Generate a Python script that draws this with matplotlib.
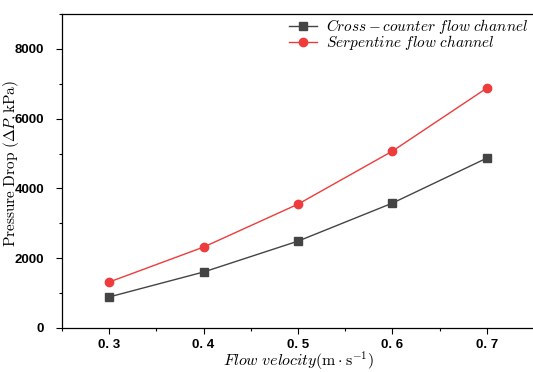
import matplotlib
matplotlib.use("Agg")
import matplotlib.pyplot as plt
from matplotlib import font_manager
from matplotlib.ticker import MultipleLocator

plt.rcParams['mathtext.fontset'] = 'cm'

# data
velocity = [0.3, 0.4, 0.5, 0.6, 0.7]
cross_counter = [890, 1605, 2490, 3580, 4870]
serpentine = [1318, 2320, 3550, 5070, 6877]

black_color = '#444444'
red_color = '#EE3B3B'

names = {f.name for f in font_manager.fontManager.ttflist}
tick_family = 'Liberation Sans Narrow' if 'Liberation Sans Narrow' in names else 'Liberation Sans'

fig = plt.figure(figsize=(5.33, 3.72), dpi=100)
ax = fig.add_axes([62 / 533, 1 - 328 / 372, 1 - 62 / 533 + 0.002, (328 - 14) / 372])

ax.plot(velocity, cross_counter, color=black_color, lw=1.0, marker='s', markersize=6,
        label=r'$Cross-counter\ flow\ channel$')
ax.plot(velocity, serpentine, color=red_color, lw=1.0, marker='o', markersize=6,
        label=r'$Serpentine\ flow\ channel$')

ax.set_xlim(0.25, 0.75)
ax.set_ylim(0, 9000)
ax.xaxis.set_major_locator(MultipleLocator(0.1))
ax.xaxis.set_minor_locator(MultipleLocator(0.05))
ax.yaxis.set_major_locator(MultipleLocator(2000))
ax.yaxis.set_minor_locator(MultipleLocator(1000))
ax.set_yticks([0, 2000, 4000, 6000, 8000])
ax.tick_params(which='both', direction='out', width=0.8)
ax.tick_params(which='major', length=4, labelsize=9.5)
ax.tick_params(axis='y', which='major', pad=9)
ax.tick_params(axis='x', which='major', pad=4)
ax.tick_params(which='minor', length=2)
ax.set_xticks(velocity)
ax.set_xticklabels(['0. 3', '0. 4', '0. 5', '0. 6', '0. 7'])
for lbl in ax.get_xticklabels() + ax.get_yticklabels():
    lbl.set_fontweight('bold')
    lbl.set_family(tick_family)

ax.spines['right'].set_visible(False)
for s in ['left', 'bottom', 'top']:
    ax.spines[s].set_linewidth(0.9)

ax.set_xlabel(r'$Flow\ velocity(\mathrm{m\cdot s^{-1}})$', fontsize=11.5)
ax.set_ylabel(r'$\mathrm{Pressure\ Drop\ }(\Delta P,\mathrm{kPa})$', fontsize=11)
ax.xaxis.set_label_coords((298 - 62) / 471, (328 - 361) / 314)
ax.yaxis.set_label_coords((11 - 62) / 471, (328 - 163) / 314)
ax.xaxis.label.set_va('center')
ax.yaxis.label.set_va('center')

ax.legend(loc='upper right', frameon=False, fontsize=11, handlelength=1.8,
          borderaxespad=0.0, labelspacing=-0.18, handletextpad=0.6,
          bbox_to_anchor=(1.0, 1.01))

fig.savefig('out.png', dpi=100)
